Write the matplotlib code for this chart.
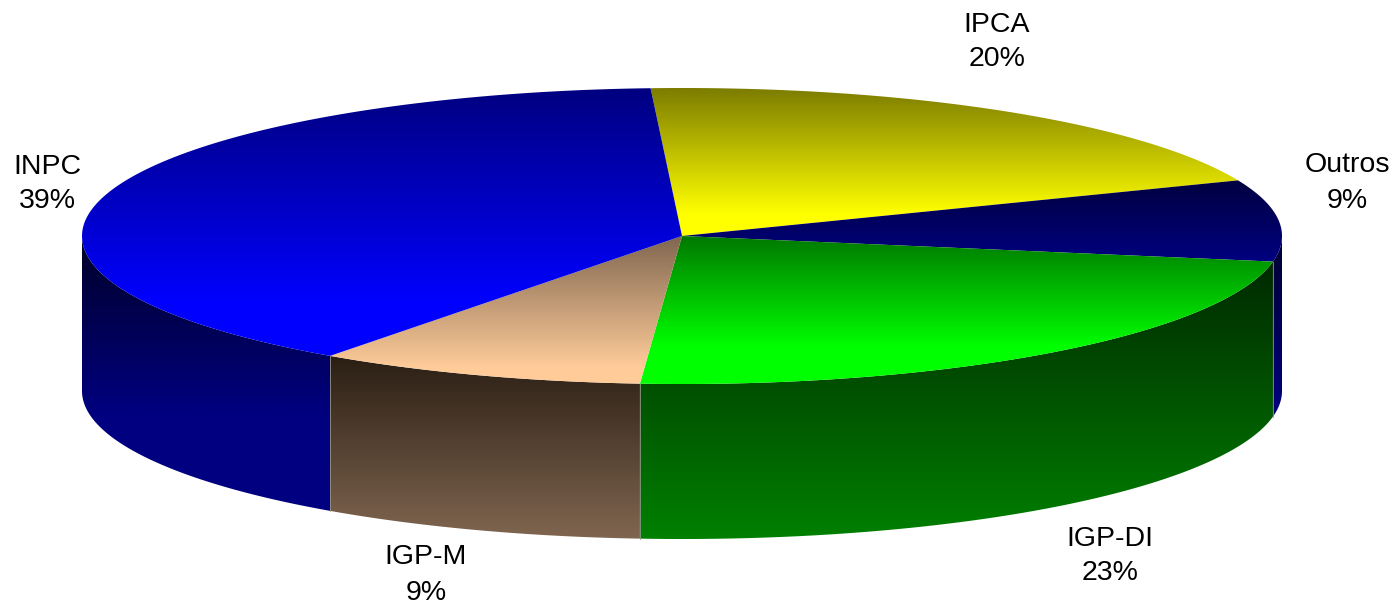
import matplotlib
matplotlib.use('Agg')
import matplotlib.pyplot as plt
from matplotlib.patches import Polygon
import numpy as np

labels = ['IPCA', 'Outros', 'IGP-DI', 'IGP-M', 'INPC']
values = [19.7, 8.9, 23.35, 8.86, 39.19]
top_dark = ['#7c7c00', '#000040', '#007800', '#806650', '#000080']
top_light = ['#ffff00', '#000080', '#00ff00', '#ffcc99', '#0000ff']
top_reach = [0.85, 1.0, 0.75, 0.89, 0.8]
side_dark = ['#404000', '#000030', '#002800', '#2a1e14', '#000028']
side_light = ['#808000', '#000080', '#008000', '#806650', '#000080']
side_reach = [1.0, 1.0, 1.0, 1.0, 0.65]
label_pos = [(997, 42), (1347, 183), (1110, 556), (426, 575), (47, 184)]

start_angle = 93
cx, cy = 682, 236
rx, ry = 600, 148
depth = 155


def hex_rgb(c):
    return np.array(matplotlib.colors.to_rgb(c))


def fill_grad(ax, pts, c_top, c_bottom, reach, zorder):
    # vertical gradient clipped to the polygon, full colour at "reach" of the height
    pts = np.array(pts)
    y0, y1 = pts[:, 1].min(), pts[:, 1].max()
    x0, x1 = pts[:, 0].min(), pts[:, 0].max()
    t = np.clip(np.linspace(0, 1, 256) / reach, 0, 1)[:, None, None]
    img = hex_rgb(c_top)[None, None, :] * (1 - t) + hex_rgb(c_bottom)[None, None, :] * t
    im = ax.imshow(img, extent=(x0, x1, y1, y0), aspect='auto', zorder=zorder, interpolation='bilinear')
    patch = Polygon(pts, closed=True, transform=ax.transData, facecolor='none', edgecolor='none')
    ax.add_patch(patch)
    im.set_clip_path(patch)


def rim(t):
    return np.column_stack([cx + rx * np.cos(t), cy - ry * np.sin(t)])


fig = plt.figure(figsize=(13.97, 6.04), dpi=100)
ax = fig.add_axes([0, 0, 1, 1])

edges = start_angle - np.cumsum([0] + values) * 3.6
for i in range(len(values)):
    a0, a1 = edges[i], edges[i + 1]
    # the part of the rim facing the viewer, sin(t) < 0
    for k in (0, 1):
        lo, hi = -180 - 360 * k, -360 * k
        s0, s1 = min(a0, hi), max(a1, lo)
        if s0 <= s1:
            continue
        t = np.radians(np.linspace(s0, s1, 120))
        upper = rim(t)
        lower = upper + [0, depth]
        fill_grad(ax, np.vstack([upper, lower[::-1]]), side_dark[i], side_light[i], side_reach[i], 2)

    t = np.radians(np.linspace(a0, a1, 200))
    pts = np.vstack([[cx, cy], rim(t)])
    fill_grad(ax, pts, top_dark[i], top_light[i], top_reach[i], 3)

# faint seams on the front wall
for a in edges[2:5]:
    p = rim(np.radians([a]))[0]
    ax.plot([p[0], p[0]], [p[1], p[1] + depth], color='#9a9a92', lw=0.7, alpha=0.8, zorder=4)

for name, v, (x, y) in zip(labels, values, label_pos):
    ax.text(x, y, f'{name}\n{v:.0f}%', ha='center', va='center', fontsize=20.5,
            family='Liberation Sans', color='black', linespacing=1.45, zorder=5)

ax.set_xlim(0, 1397)
ax.set_ylim(604, 0)
ax.axis('off')
fig.savefig('out.png', dpi=100, facecolor='white')
